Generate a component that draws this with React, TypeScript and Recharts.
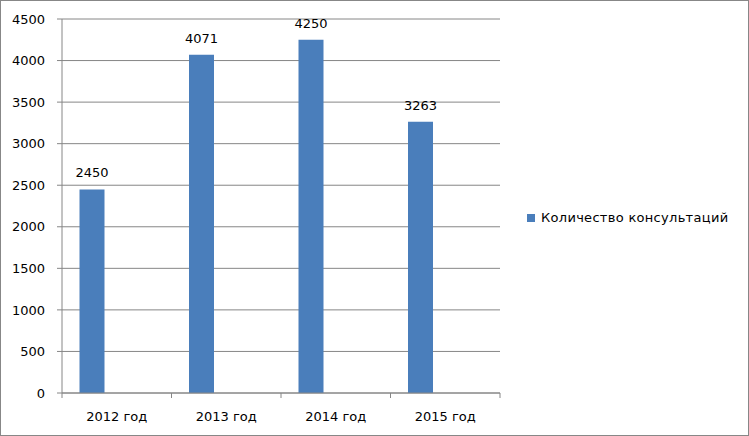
import { BarChart, Bar, CartesianGrid, XAxis, YAxis, LabelList } from 'recharts';

const years = ["2012 год", "2013 год", "2014 год", "2015 год"];
const consultations = [2450, 4071, 4250, 3263];
const yTicks = [0, 500, 1000, 1500, 2000, 2500, 3000, 3500, 4000, 4500];
const seriesName = "Количество консультаций";

// two empty series keep the Excel-like slot layout (bar sits at the left of its category)
const chartData = years.map((year, i) => ({ year, value: consultations[i] }));

const FONT = '"DejaVu Sans", sans-serif';
const HALF_BAND = 54.75;

function YearTick(props: any) {
  const { x, y, payload, index, visibleTicksCount } = props;
  return (
    <g>
      <line x1={x - HALF_BAND} y1={y} x2={x - HALF_BAND} y2={y + 5} stroke="#868686" />
      {index === visibleTicksCount - 1 && (
        <line x1={x + HALF_BAND} y1={y} x2={x + HALF_BAND} y2={y + 5} stroke="#868686" />
      )}
      <text x={x} y={y + 28} textAnchor="middle" fontSize={13} fontFamily={FONT} fill="#000">
        {payload.value}
      </text>
    </g>
  );
}

function App() {
  return (
    <div
      style={{
        position: 'absolute',
        left: 0,
        top: 0,
        width: 749,
        height: 436,
        boxSizing: 'border-box',
        border: '1px solid #878787',
        background: '#fff',
      }}
    >
      <BarChart
        width={747}
        height={434}
        data={chartData}
        margin={{ top: 18, right: 248, bottom: 12, left: 0 }}
        barCategoryGap={17.5}
        barGap={0}
      >
        <CartesianGrid vertical={false} stroke="#868686" />
        <XAxis
          dataKey="year"
          stroke="#868686"
          tickLine={false}
          tickSize={0}
          tickMargin={0}
          height={30}
          tick={<YearTick />}
          interval={0}
        />
        <YAxis
          width={61}
          domain={[0, 4500]}
          ticks={yTicks}
          interval={0}
          stroke="#868686"
          tickSize={5}
          tickMargin={12}
          tick={{ fill: '#000', fontSize: 13, fontFamily: FONT }}
        />
        <Bar dataKey="value" name={seriesName} fill="#4A7EBB" isAnimationActive={false}>
          <LabelList dataKey="value" position="top" offset={12} fill="#000" fontSize={13} fontFamily={FONT} />
        </Bar>
        <Bar dataKey="empty1" legendType="none" fill="none" isAnimationActive={false} />
        <Bar dataKey="empty2" legendType="none" fill="none" isAnimationActive={false} />
      </BarChart>
      <div
        style={{
          position: 'absolute',
          left: 526,
          top: 209,
          display: 'flex',
          alignItems: 'center',
          fontFamily: FONT,
          fontSize: 13,
          color: '#000',
          whiteSpace: 'nowrap',
        }}
      >
        <span style={{ display: 'inline-block', width: 8, height: 8, background: '#4A7EBB', marginRight: 6 }} />
        <span style={{ letterSpacing: 0.3 }}>{seriesName}</span>
      </div>
    </div>
  );
}

export default App;
